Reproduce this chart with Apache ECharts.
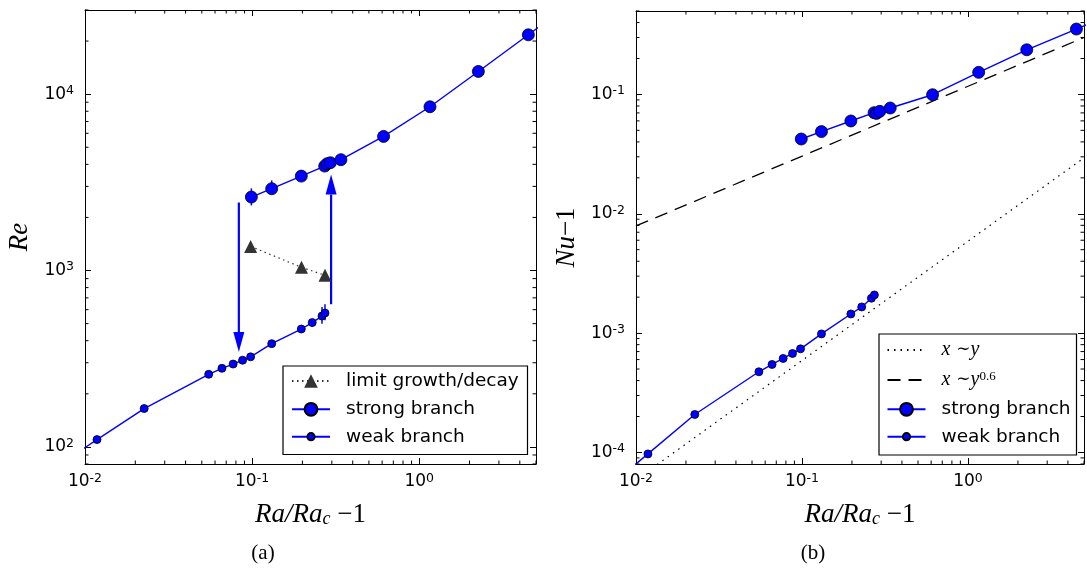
<!DOCTYPE html>
<html><head><meta charset="utf-8">
<script src="https://cdn.jsdelivr.net/npm/echarts@6/dist/echarts.min.js"></script>
<style>html,body{margin:0;padding:0;background:#fff}#c{width:1087px;height:570px}</style>
</head><body><div id="c"></div>
<script>
// ---- data ----
const strongX  = [0.099, 0.131, 0.197, 0.272, 0.281, 0.294, 0.34, 0.612, 1.16, 2.26, 4.5, 9];
const strongRe = [2610, 2910, 3430, 3910, 4030, 4085, 4250, 5760, 8480, 13450, 21700, 35200];
const strongNu = [0.0423, 0.0488, 0.0599, 0.0703, 0.0693, 0.0721, 0.0769, 0.0994, 0.153, 0.2366, 0.353, 0.527];
const weakX  = [0.005, 0.0118, 0.0226, 0.055, 0.066, 0.077, 0.0877, 0.098, 0.131, 0.197, 0.229, 0.262, 0.273];
const weakRe = [64, 110, 165, 258, 279, 295, 310, 324, 385, 466, 507, 552, 574];
const weakNu = [3.56e-5, 9.72e-5, 2.08e-4, 4.74e-4, 5.46e-4, 6.13e-4, 6.75e-4, 7.38e-4, 9.85e-4, 1.446e-3, 1.656e-3, 1.96e-3, 2.087e-3];
const limitX  = [0.098, 0.1975, 0.273];
const limitRe = [1370, 1043, 939];
const errX  = [0.099, 0.131, 0.229, 0.262, 0.273];
const errLo = [2340, 2737, 479, 500, 522];
const errHi = [2923, 3243, 529, 621, 643];
const arrowX    = [0.0833, 0.297];
const arrowFrom = [2430, 644];
const arrowTo   = [345, 3500];
const linX  = [0.01, 5];
const linNu = [5.9e-5, 0.0294];
const powX  = [0.01, 5];
const powNu = [0.0079, 0.30];
const xRange  = [0.01, 5];
const reRange = [80, 30000];
const nuRange = [8e-5, 0.5];

const zip = (a, b) => a.map((v, i) => [v, b[i]]);
function minorTicks(lo, hi) {
  const out = [];
  for (let k = Math.floor(Math.log10(lo)); k <= Math.ceil(Math.log10(hi)); k++) {
    for (let m = 2; m <= 9; m++) {
      const v = m * Math.pow(10, k);
      if (v >= lo * 0.999 && v <= hi * 1.001) out.push(v);
    }
  }
  return out;
}
const BLUE = '#0000ff';
const SANS = 'DejaVu Sans';
const SERIF = 'Liberation Serif';

function fmtLog(v) {
  const e = Math.log10(v);
  const r = Math.round(e);
  if (Math.abs(e - r) > 1e-6) return '';
  return '{m|10}{s|' + r + '}';
}
const labelRich = {
  m: {fontSize: 17, fontFamily: SANS, color: '#000', lineHeight: 20},
  s: {fontSize: 12.5, fontFamily: SANS, color: '#000', lineHeight: 10, verticalAlign: 'top'}
};
function xAx(grid, pos, withLabel, name) {
  return {
    gridIndex: grid, type: 'log', logBase: 10, min: xRange[0], max: xRange[1], position: pos,
    axisLine: {show: true, onZero: false, lineStyle: {color: '#000', width: 1}},
    axisTick: {show: true, inside: true, length: 6, lineStyle: {color: '#000', width: 1}},
    splitLine: {show: false},
    axisLabel: {show: withLabel, formatter: fmtLog, rich: labelRich, margin: 8},
    name: name || '', nameLocation: 'middle', nameGap: 37,
    nameTextStyle: {
      rich: {
        i: {fontFamily: SERIF, fontStyle: 'italic', fontSize: 27, color: '#000'},
        sub: {fontFamily: SERIF, fontStyle: 'italic', fontSize: 18, color: '#000', verticalAlign: 'bottom', lineHeight: 22},
        n: {fontFamily: SERIF, fontSize: 27, color: '#000'}
      }
    }
  };
}
function yAx(grid, pos, range, withLabel, name, gap) {
  return {
    gridIndex: grid, type: 'log', logBase: 10, min: range[0], max: range[1], position: pos,
    axisLine: {show: true, onZero: false, lineStyle: {color: '#000', width: 1}},
    axisTick: {show: true, inside: true, length: 6, lineStyle: {color: '#000', width: 1}},
    splitLine: {show: false},
    axisLabel: {show: withLabel, formatter: fmtLog, rich: labelRich, margin: 11},
    name: name || '', nameLocation: 'middle', nameGap: gap || 50,
    nameTextStyle: {
      rich: {
        i: {fontFamily: SERIF, fontStyle: 'italic', fontSize: 27, color: '#000'},
        n: {fontFamily: SERIF, fontSize: 27, color: '#000'}
      }
    }
  };
}

function tickSeries(xi, yi, axis, vals, yr) {
  return {
    type: 'custom', xAxisIndex: xi, yAxisIndex: yi, silent: true, z: 5,
    data: axis === 'x' ? vals.map(v => [v, yr[0]]) : vals.map(v => [xRange[0], v]),
    renderItem: function (params, api) {
      const L = 3.5;
      if (axis === 'x') {
        const v = api.value(0);
        const b = api.coord([v, yr[0]]), t = api.coord([v, yr[1]]);
        return {type: 'group', children: [
          {type: 'line', shape: {x1: b[0], y1: b[1], x2: b[0], y2: b[1] - L}, style: {stroke: '#000', lineWidth: 1}},
          {type: 'line', shape: {x1: t[0], y1: t[1], x2: t[0], y2: t[1] + L}, style: {stroke: '#000', lineWidth: 1}}
        ]};
      } else {
        const v = api.value(1);
        const l = api.coord([xRange[0], v]), r = api.coord([xRange[1], v]);
        return {type: 'group', children: [
          {type: 'line', shape: {x1: l[0], y1: l[1], x2: l[0] + L, y2: l[1]}, style: {stroke: '#000', lineWidth: 1}},
          {type: 'line', shape: {x1: r[0], y1: r[1], x2: r[0] - L, y2: r[1]}, style: {stroke: '#000', lineWidth: 1}}
        ]};
      }
    }
  };
}

const legendText = {
  fontSize: 18.5, fontFamily: SANS, color: '#000', lineHeight: 20, padding: [0, 0, 0, 11],
  rich: {
    i: {fontFamily: SERIF, fontStyle: 'italic', fontSize: 20, color: '#000'},
    n: {fontFamily: 'DejaVu Serif', fontSize: 17, color: '#000'},
    sup: {fontFamily: SERIF, fontSize: 13, color: '#000', verticalAlign: 'top', lineHeight: 10}
  }
};
function legendFmt(name) {
  if (name === 'x~y') return '{i|x} {n|∼}{i|y}';
  if (name === 'x~y^0.6') return '{i|x} {n|∼}{i|y}{sup|0.6}';
  return name;
}
function leg(name, left, cy, itemH, extra) {
  const item = Object.assign({name: name}, extra || {});
  return {data: [item], left: left, top: cy - 10, padding: 0, itemWidth: 38, itemHeight: itemH, z: 20,
    orient: 'vertical', selectedMode: false, textStyle: legendText, formatter: legendFmt};
}
const hideSym = {itemStyle: {color: 'rgba(0,0,0,0)', borderWidth: 0, opacity: 0}};

const option = {
  animation: false,
  backgroundColor: '#fff',
  grid: [
    {left: 85, top: 10, width: 451, height: 454},
    {left: 636, top: 11, width: 448, height: 453}
  ],
  xAxis: [
    xAx(0, 'bottom', true, '{i|Ra/Ra}{sub|c}{n| −1}'), xAx(0, 'top', false),
    xAx(1, 'bottom', true, '{i|Ra/Ra}{sub|c}{n| −1}'), xAx(1, 'top', false)
  ],
  yAxis: [
    yAx(0, 'left', reRange, true, '{i|Re}', 52), yAx(0, 'right', reRange, false),
    yAx(1, 'left', nuRange, true, '{i|Nu}{n|−1}', 56), yAx(1, 'right', nuRange, false)
  ],
  legend: [
    leg('limit growth/decay', 291, 381, 17),
    leg('strong branch', 291, 409.3, 16),
    leg('weak branch', 291, 436.7, 9),
    leg('x~y', 886.5, 350, 12, hideSym),
    leg('x~y^0.6', 886.5, 380, 12, hideSym),
    leg('strong branch', 886.5, 409.3, 16),
    leg('weak branch', 886.5, 436.7, 9)
  ],
  graphic: [
    {type: 'rect', shape: {x: 283, y: 366, width: 244.5, height: 88.5}, style: {fill: 'none', stroke: '#000', lineWidth: 1.2}, z: 10},
    {type: 'rect', shape: {x: 879, y: 334, width: 197.5, height: 121}, style: {fill: 'none', stroke: '#000', lineWidth: 1.2}, z: 10},
    {type: 'text', x: 263, y: 553, style: {text: '(a)', fontSize: 21, fontFamily: SERIF, fill: '#000', align: 'center', verticalAlign: 'middle', textAlign: 'center', textVerticalAlign: 'middle'}},
    {type: 'text', x: 813, y: 553, style: {text: '(b)', fontSize: 21, fontFamily: SERIF, fill: '#000', align: 'center', verticalAlign: 'middle', textAlign: 'center', textVerticalAlign: 'middle'}}
  ],
  series: [
    tickSeries(0, 0, 'x', minorTicks(xRange[0], xRange[1]), reRange),
    tickSeries(0, 0, 'y', minorTicks(reRange[0], reRange[1]), reRange),
    tickSeries(2, 2, 'x', minorTicks(xRange[0], xRange[1]), nuRange),
    tickSeries(2, 2, 'y', minorTicks(nuRange[0], nuRange[1]), nuRange),
    // error bars (left)
    {
      type: 'custom', xAxisIndex: 0, yAxisIndex: 0, silent: true, z: 1,
      data: errX.map((x, i) => [x, errLo[i], errHi[i]]),
      encode: {x: 0, y: [1, 2]},
      renderItem: function (params, api) {
        const a = api.coord([api.value(0), api.value(1)]), b = api.coord([api.value(0), api.value(2)]);
        return {type: 'line', shape: {x1: a[0], y1: a[1], x2: b[0], y2: b[1]}, style: {stroke: BLUE, lineWidth: 1.5}};
      }
    },
    // hysteresis arrows (left)
    {
      type: 'custom', xAxisIndex: 0, yAxisIndex: 0, silent: true, z: 1,
      data: arrowX.map((x, i) => [x, arrowFrom[i], arrowTo[i]]),
      encode: {x: 0, y: [1, 2]},
      renderItem: function (params, api) {
        const a = api.coord([api.value(0), api.value(1)]), b = api.coord([api.value(0), api.value(2)]);
        const dir = b[1] > a[1] ? 1 : -1, hl = 20, hw = 5.5, base = b[1] - dir * hl;
        return {type: 'group', children: [
          {type: 'line', shape: {x1: a[0], y1: a[1], x2: a[0], y2: base}, style: {stroke: BLUE, lineWidth: 2.2}},
          {type: 'polygon', shape: {points: [[b[0], b[1]], [b[0] - hw, base], [b[0] + hw, base]]}, style: {fill: BLUE}}
        ]};
      }
    },
    {
      name: 'limit growth/decay', type: 'line', xAxisIndex: 0, yAxisIndex: 0, data: zip(limitX, limitRe),
      symbol: 'triangle', symbolSize: 13, z: 3,
      lineStyle: {color: '#333', width: 1.2, type: [1.5, 3.5]},
      itemStyle: {color: '#333', borderWidth: 0}
    },
    {
      name: 'strong branch', type: 'line', xAxisIndex: 0, yAxisIndex: 0, data: zip(strongX, strongRe),
      symbol: 'circle', symbolSize: 12, z: 4, clip: true,
      lineStyle: {color: BLUE, width: 1.4},
      itemStyle: {color: BLUE, borderColor: '#000', borderWidth: 0.8}
    },
    {
      name: 'weak branch', type: 'line', xAxisIndex: 0, yAxisIndex: 0, data: zip(weakX, weakRe),
      symbol: 'circle', symbolSize: 8, z: 4, clip: true,
      lineStyle: {color: BLUE, width: 1.4},
      itemStyle: {color: BLUE, borderColor: '#000', borderWidth: 0.8}
    },
    {
      name: 'x~y', type: 'line', xAxisIndex: 2, yAxisIndex: 2, data: zip(linX, linNu),
      symbol: 'none', z: 2, clip: true,
      lineStyle: {color: '#000', width: 1.2, type: [1.5, 5]}
    },
    {
      name: 'x~y^0.6', type: 'line', xAxisIndex: 2, yAxisIndex: 2, data: zip(powX, powNu),
      symbol: 'none', z: 2, clip: true,
      lineStyle: {color: '#000', width: 1.3, type: [13, 8]}
    },
    {
      name: 'strong branch', type: 'line', xAxisIndex: 2, yAxisIndex: 2, data: zip(strongX, strongNu),
      symbol: 'circle', symbolSize: 12, z: 4, clip: true,
      lineStyle: {color: BLUE, width: 1.4},
      itemStyle: {color: BLUE, borderColor: '#000', borderWidth: 0.8}
    },
    {
      name: 'weak branch', type: 'line', xAxisIndex: 2, yAxisIndex: 2, data: zip(weakX, weakNu),
      symbol: 'circle', symbolSize: 8, z: 4, clip: true,
      lineStyle: {color: BLUE, width: 1.4},
      itemStyle: {color: BLUE, borderColor: '#000', borderWidth: 0.8}
    }
  ]
};
const chart = echarts.init(document.getElementById('c'), null, {renderer: 'canvas'});
chart.setOption(option);
</script>
</body></html>
